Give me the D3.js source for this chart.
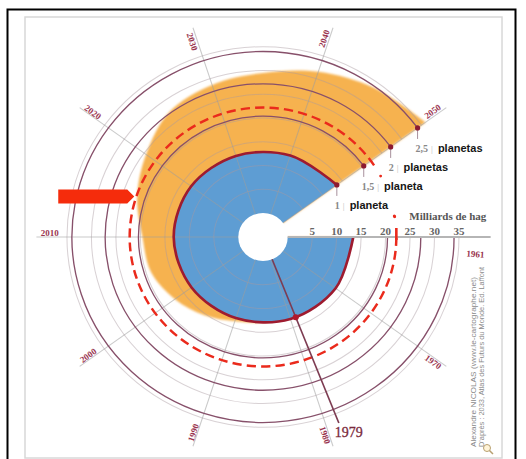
<!DOCTYPE html>
<html lang="fr">
<head>
<meta charset="UTF-8">
<title>Empreinte écologique 1961-2050</title>
<script src="https://d3js.org/d3.v7.min.js"></script>
<style>
    body { margin: 0; background: #fff; }
    svg { display: block; }
    .yr { font-family: "Liberation Serif", serif; font-weight: bold; font-size: 9px; fill: #9a3550; }
    .tick { font-family: "Liberation Serif", serif; font-weight: bold; font-size: 11px; fill: #666; }
    .num { font-family: "Liberation Serif", serif; font-weight: bold; font-size: 10px; fill: #888; }
    .word { font-family: "Liberation Sans", Arial, sans-serif; font-weight: bold; font-size: 11px; fill: #151515; }
    .credit { font-family: "Liberation Sans", Arial, sans-serif; font-size: 7px; fill: #8a8a8a; }
</style>
</head>
<body>
<svg width="526" height="459"></svg>
<script>
    // biocapacity (blue, 1 planet) and footprint (orange), billions of gha
    const bioYears = [1960, 1970, 1980, 1990, 2000, 2010, 2020, 2030, 2040, 2050];
    const biocapacity = [13.4, 13.3, 13.1, 12.9, 13.0, 13.2, 13.1, 12.9, 13.0, 13.6];

    const footYears = [1960, 1965, 1970, 1975, 1980, 1985, 1990, 1995, 2000, 2005,
                       2010, 2015, 2020, 2025, 2030, 2035, 2040, 2045, 2050];
    const footprint = [9.5, 10.5, 11.5, 12.0, 12.5, 12.9, 13.6, 15.3, 17.2, 19.0,
                       19.6, 22.0, 24.5, 27.5, 28.6, 29.5, 31.5, 33.7, 36.0];

    const axisTicks = [5, 10, 15, 20, 25, 30, 35];
    const gridValues = [5, 10, 15, 20, 25, 30, 35];
    const planetLevels = [1, 1.5, 2, 2.5];
    const planetNums = ["1", "1,5", "2", "2,5"];
    const planetWords = ["planeta", "planeta", "planetas", "planetas"];
    const planetUnit = 13.6;
    const spokeYears = [1960, 1970, 1980, 1990, 2000, 2010, 2020, 2030, 2040, 2050];
    const labelYears = [1961, 1970, 1980, 1990, 2000, 2010, 2020, 2030, 2040, 2050];
    const currentLevel = 22.2;   // dashed red circle
    const dashDotYears = [2052.2, 2057.5];
    const overshootYear = 1979;
    const arrowYear = 2015;

    const svg = d3.select("svg");
    const cx = 263, cy = 237, sx = 1.03, holeR = 24;

    const r = d3.scaleLinear().domain([0, 35]).range([holeR, holeR + 4.75 * 35]);
    const ang = d3.scaleLinear().domain([1960, 2050])
        .range([Math.PI / 2, Math.PI / 2 + 1.8 * Math.PI]);

    function pt(rad, a) {
        return [cx + sx * rad * Math.sin(a), cy - rad * Math.cos(a)];
    }

    // frames
    svg.append("rect").attr("x", 25).attr("y", 17).attr("width", 477).attr("height", 441)
        .attr("fill", "#fff").attr("stroke", "#d8d8d8").attr("stroke-width", 1.5);
    svg.append("rect").attr("x", 7.5).attr("y", 9.5).attr("width", 508).attr("height", 455)
        .attr("fill", "none").attr("stroke", "#000").attr("stroke-width", 2);

    const defs = svg.append("defs");
    defs.append("filter").attr("id", "soft")
        .append("feGaussianBlur").attr("stdDeviation", 1.2);

    const g = svg.append("g").attr("transform", `translate(${cx},${cy}) scale(${sx},1)`);

    const footData = footYears.map((y, i) => ({year: y, v: footprint[i]}));
    const bioData = bioYears.map((y, i) => ({year: y, v: biocapacity[i]}));

    const area = d3.areaRadial()
        .angle(d => ang(d.year))
        .innerRadius(holeR - 4)
        .outerRadius(d => r(d.v))
        .curve(d3.curveCatmullRom);

    g.append("path").datum(footData).attr("d", area)
        .attr("fill", "#f6b250").attr("filter", "url(#soft)");
    g.append("path").datum(bioData).attr("d", area)
        .attr("fill", "#5e9dd3");

    function arcPath(R, y0, y1) {
        const p = d3.path();
        p.arc(0, 0, R, ang(y0) - Math.PI / 2, ang(y1) - Math.PI / 2);
        return p.toString();
    }

    // light grid circles
    g.selectAll(".grid").data(gridValues).join("path")
        .attr("d", d => arcPath(r(d), 1960, 2050))
        .attr("fill", "none").attr("stroke", "#a8989f")
        .attr("stroke-opacity", 0.45).attr("stroke-width", 1);

    // spokes
    g.selectAll(".spoke").data(spokeYears.slice(1)).join("line")
        .attr("x1", d => holeR * Math.sin(ang(d))).attr("y1", d => -holeR * Math.cos(ang(d)))
        .attr("x2", d => 220 * Math.sin(ang(d))).attr("y2", d => -220 * Math.cos(ang(d)))
        .attr("stroke", "#9c9c9c").attr("stroke-opacity", 0.55).attr("stroke-width", 1);

    // planet circles
    g.selectAll(".planet").data(planetLevels.slice(1)).join("path")
        .attr("d", d => arcPath(r(d * planetUnit), 1960, 2050))
        .attr("fill", "none").attr("stroke", "#87506a").attr("stroke-width", 1.3);

    // current footprint, dashed
    g.append("path").attr("d", arcPath(r(currentLevel), 1960, 2050.8))
        .attr("fill", "none").attr("stroke", "#ea2a1c").attr("stroke-width", 2.4)
        .attr("stroke-dasharray", "9 5");
    g.selectAll(".dd").data(dashDotYears).join("circle")
        .attr("cx", d => r(currentLevel) * Math.sin(ang(d)))
        .attr("cy", d => -r(currentLevel) * Math.cos(ang(d)))
        .attr("r", 1.4).attr("fill", "#ea2a1c");

    // biocapacity edge
    g.append("path").datum(bioData)
        .attr("d", d3.lineRadial().angle(d => ang(d.year)).radius(d => r(d.v)).curve(d3.curveCatmullRom))
        .attr("fill", "none").attr("stroke", "#9e1b2f").attr("stroke-width", 2.6);

    // hole and axis
    g.append("circle").attr("r", holeR).attr("fill", "#fff");
    g.append("line").attr("x1", holeR).attr("x2", 221).attr("y1", 0).attr("y2", 0)
        .attr("stroke", "#b5b5b5").attr("stroke-width", 2);

    // 1979 line
    const a79 = ang(overshootYear);
    g.append("line")
        .attr("x1", holeR * Math.sin(a79)).attr("y1", -holeR * Math.cos(a79))
        .attr("x2", 200 * Math.sin(a79)).attr("y2", -200 * Math.cos(a79))
        .attr("stroke", "#7d3c52").attr("stroke-width", 1.6);
    const bio79 = d3.interpolateNumber(biocapacity[1], biocapacity[2])(0.9);
    g.append("circle").attr("cx", r(bio79) * Math.sin(a79)).attr("cy", -r(bio79) * Math.cos(a79))
        .attr("r", 3).attr("fill", "#b0182c");

    const end79 = pt(200, a79);
    svg.append("text").attr("x", end79[0] - 4).attr("y", end79[1] + 14)
        .attr("font-family", "Liberation Serif, serif").attr("font-size", 14)
        .attr("stroke", "#7a2a3c").attr("stroke-width", 0.3)
        .attr("fill", "#7a2a3c").text("1979");

    // red tick on axis + axis labels
    const xCur = cx + sx * r(currentLevel);
    svg.append("line").attr("x1", xCur).attr("x2", xCur).attr("y1", cy - 9).attr("y2", cy + 3)
        .attr("stroke", "#ea2a1c").attr("stroke-width", 2.6);
    svg.selectAll(".tick").data(axisTicks).join("text").attr("class", "tick")
        .attr("x", d => cx + sx * r(d)).attr("y", cy - 2)
        .attr("text-anchor", "middle").text(d => d);
    svg.append("circle").attr("cx", xCur - 2).attr("cy", cy - 21).attr("r", 1.5).attr("fill", "#ea2a1c");
    svg.append("text").attr("x", xCur + 13).attr("y", cy - 17)
        .attr("font-family", "Liberation Serif, serif").attr("font-weight", "bold")
        .attr("font-size", 11).attr("fill", "#555").text("Milliards de hag");

    // planet markers on 2050 edge
    const a50 = ang(2050);
    planetLevels.forEach((k, i) => {
        const p = pt(r(k * planetUnit), a50);
        svg.append("line").attr("x1", p[0]).attr("x2", p[0]).attr("y1", p[1]).attr("y2", p[1] + 11)
            .attr("stroke", "#a8909c").attr("stroke-width", 1);
        svg.append("circle").attr("cx", p[0]).attr("cy", p[1]).attr("r", 2.6).attr("fill", "#8c1a30");
        const t = svg.append("text").attr("x", p[0] - 2).attr("y", p[1] + 24);
        t.append("tspan").attr("class", "num").text(planetNums[i]);
        t.append("tspan").attr("dx", 3).attr("font-size", 9).attr("fill", "#bbb").text("|");
        t.append("tspan").attr("class", "word").attr("dx", 5).text(planetWords[i]);
    });

    // year labels along spokes (later ones sit on the other side of their spoke)
    labelYears.forEach(y => {
        const a = ang(y);
        const th = (y - 1960) * 3.6;
        const rot = th > 90 && th <= 270 ? th - 180 : (th > 270 ? th - 360 : th);
        const b = pt(207, a);
        const tr = th * Math.PI / 180;
        const off = y < 2030 ? 4 : -5;
        const x = b[0] - off * Math.sin(tr), yy = b[1] + off * Math.cos(tr);
        svg.append("text").attr("class", "yr")
            .attr("transform", `translate(${x},${yy}) rotate(${rot})`)
            .attr("text-anchor", "middle").attr("dy", "0.35em").text(y);
    });

    // red arrow
    const tip = pt(r(currentLevel) + 2, ang(arrowYear));
    svg.append("path")
        .attr("d", `M${tip[0]},${tip[1]} L${tip[0] - 7},${tip[1] - 7} L${tip[0] - 76},${tip[1] - 7} ` +
                   `L${tip[0] - 76},${tip[1] + 7} L${tip[0] - 7},${tip[1] + 7} Z`)
        .attr("fill", "#f52c0c");

    // credit
    svg.append("text").attr("class", "credit").attr("transform", "translate(476,447) rotate(-90)")
        .attr("textLength", 170).attr("lengthAdjust", "spacingAndGlyphs")
        .text("Alexandre NICOLAS (www.le-cartographe.net)");
    svg.append("text").attr("class", "credit").attr("transform", "translate(484,447) rotate(-90)")
        .attr("textLength", 180).attr("lengthAdjust", "spacingAndGlyphs")
        .text("D'après : 2033, Atlas des Futurs du Monde. Ed. Laffont");
    svg.append("circle").attr("cx", 487).attr("cy", 448).attr("r", 3.5)
        .attr("fill", "#fff4d8").attr("stroke", "#b8a070").attr("stroke-width", 1);
    svg.append("line").attr("x1", 489.5).attr("y1", 450.5).attr("x2", 493).attr("y2", 454)
        .attr("stroke", "#b8a070").attr("stroke-width", 1.5);
</script>
</body>
</html>
